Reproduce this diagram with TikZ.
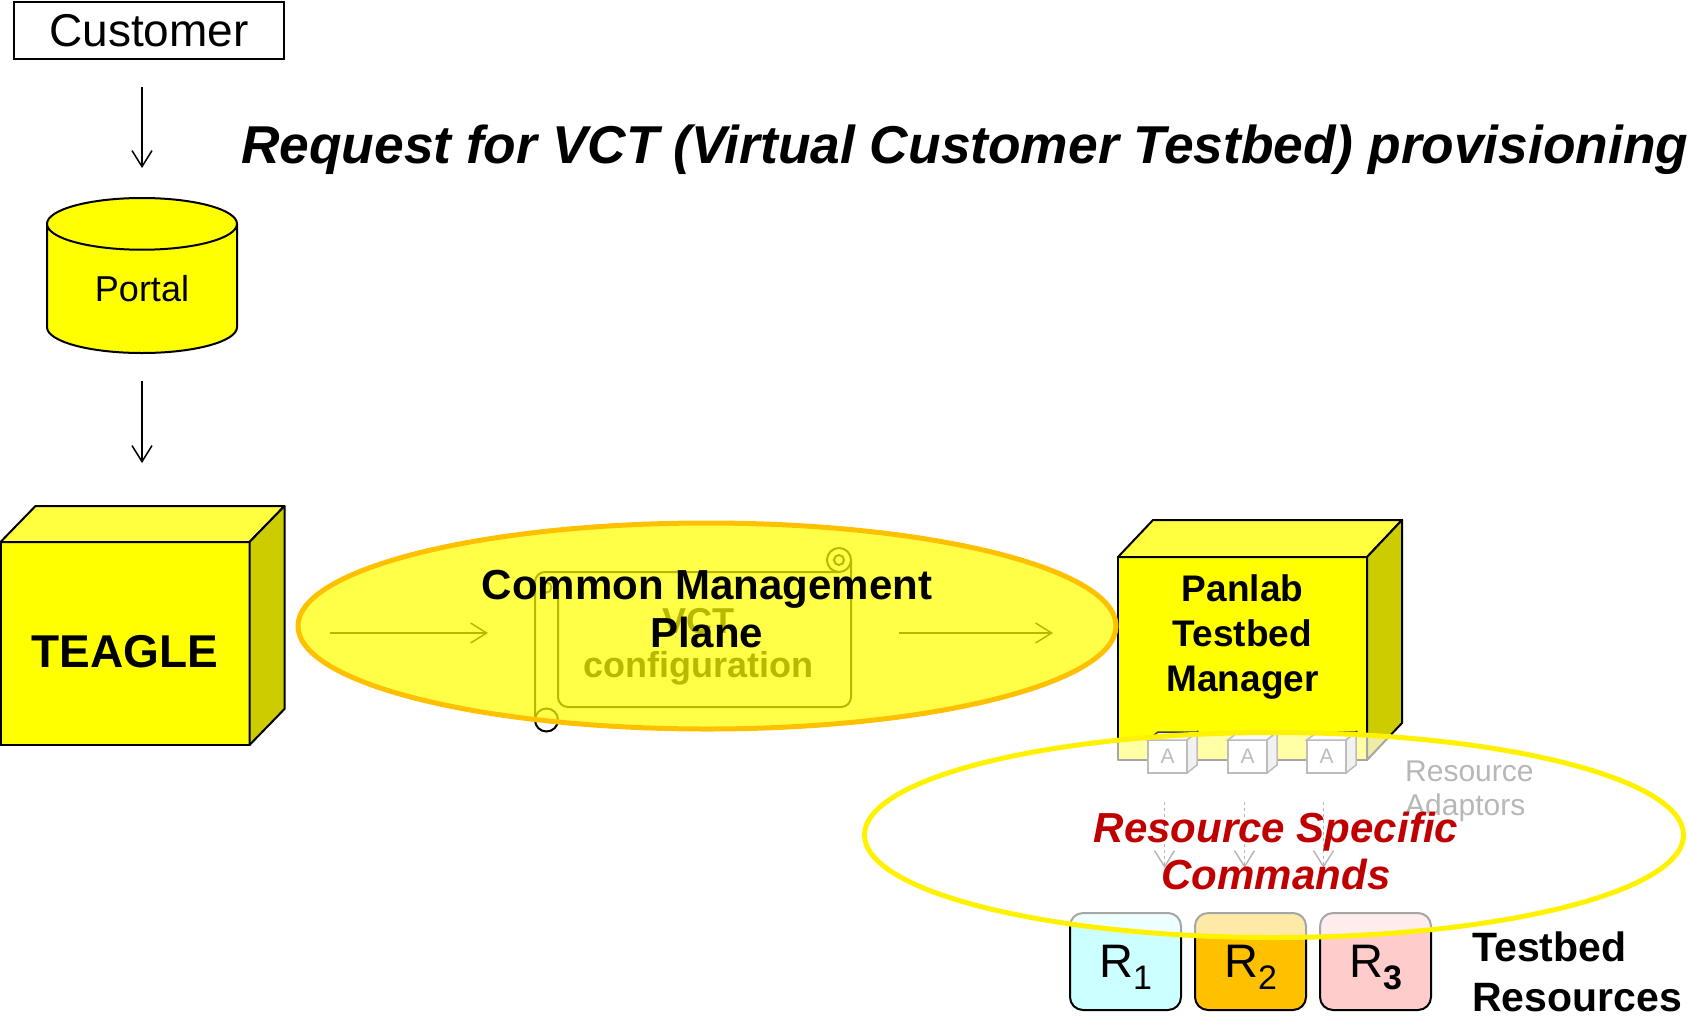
\documentclass[tikz,border=0pt]{standalone}
\usepackage{fontspec}
\setmainfont{Liberation Sans}
\usepackage{tikz}
\usetikzlibrary{positioning}
\usetikzlibrary{calc}
\usetikzlibrary{shapes.geometric}
\usetikzlibrary{arrows.meta}

\definecolor{cubefront}{HTML}{FFFF00}
\definecolor{cubetop}{HTML}{FFFF40}
\definecolor{cubeside}{HTML}{CCCC00}
\definecolor{planerim}{HTML}{FFC000}
\definecolor{cmdred}{HTML}{C00000}
\definecolor{resone}{HTML}{CCFFFF}
\definecolor{restwo}{HTML}{FFC000}
\definecolor{resthree}{HTML}{FFCCCC}

\newcommand{\fs}[2]{\fontsize{#1pt}{#2pt}\selectfont}
\newcommand{\rsub}[1]{R\raisebox{-12pt}{\fs{34}{34}#1}}
% top and right face behind a front face node: node, dx, dy, top style, side style
\newcommand{\cubesides}[5]{%
  \filldraw[#4] (#1.north west) -- ++(#2,#3) -- ($(#1.north east)+(#2,#3)$) -- (#1.north east) -- cycle;
  \filldraw[#5] (#1.north east) -- ++(#2,#3) -- ($(#1.south east)+(#2,#3)$) -- (#1.south east) -- cycle;
}

\tikzset{
  box/.style          = { rectangle, inner sep=0pt, outer sep=0pt },
  border/.style       = { draw=black, line width=2pt, line join=round },
  cube/.style         = { box, border, fill=cubefront, minimum width=249pt, minimum height=203pt },
  cubetopface/.style  = { border, fill=cubetop },
  cubesideface/.style = { border, fill=cubeside },
  cubelabel/.style    = { inner sep=0pt, align=center },
  adaptor/.style      = { box, draw=black!75, line width=1.5pt, fill=white, minimum width=39pt, minimum height=33pt, font=\fs{21}{21}, text=black!75 },
  adtopface/.style    = { draw=black!75, line width=1.5pt, fill=black!5 },
  adsideface/.style   = { draw=black!75, line width=1.5pt, fill=black!15 },
  resource/.style     = { box, border, rounded corners=13pt, minimum width=111pt, minimum height=97pt, font=\fs{47}{47}, text depth=0pt },
  plane/.style        = { ellipse, inner sep=0pt, outer sep=0pt, minimum width=818pt, minimum height=206pt, line width=5pt },
  planetext/.style    = { inner sep=0pt, align=center, fill opacity=1, text opacity=1 },
  scrollline/.style   = { draw=black, line width=2pt },
  faded/.style        = { ->, black, line width=1.5pt },
}

\begin{document}
\begin{tikzpicture}[
  x=1pt, y=-1pt,
  >={Straight Barb[length=16pt,width=20pt]},
  every node/.style={inner sep=0pt}
]
  \useasboundingbox (0,0) rectangle (1688,1018);

  \node (customer) [box, draw=black, line width=1.5pt, minimum width=270pt, minimum height=57pt, font=\fs{46}{46}] at (149,30.5) {Customer};
  \node (portal)   [cylinder, shape border rotate=90, aspect=0.55, border, fill=cubefront, minimum width=190pt, minimum height=155pt, font=\fs{36}{36}, anchor=shape center] at (142,275.5) {Portal};
  \node (request)  [font=\fs{53.3}{53.3}\bfseries\itshape, anchor=base west] at (241,163) {Request for VCT (Virtual Customer Testbed) provisioning};

  \node (teagle) [cube, label={[cubelabel, font=\fs{46}{46}\bfseries, yshift=-8pt]center:TEAGLE}] at (125,643.5) {};
  \cubesides{teagle}{35}{-36}{cubetopface}{cubesideface}
  \node (panlab) [cube, label={[cubelabel, font=\fs{37}{45}\bfseries, yshift=21pt]center:Panlab\\Testbed\\Manager}] at (1242.5,658.5) {};
  \cubesides{panlab}{35}{-37}{cubetopface}{cubesideface}

  \draw [->, line width=1.5pt, shorten <=28pt, shorten >=29pt] (customer.south -| portal.north) -- (portal.north);
  \draw [->, line width=1.5pt, shorten <=27pt, shorten >=79pt] (portal.south) -- (portal.south |- teagle.north);

  % scroll under the plane
  \node (vct) [box, minimum width=316pt, minimum height=135pt,
    label={[planetext, font=\fs{36}{44}\bfseries, text=black, xshift=5pt, yshift=-7.3pt]center:VCT\\configuration}] at (693,639.5) {};
  \begin{scope}[shift={(vct.center)}, scrollline]
    \draw [rounded corners=10pt] (-158,80) -- (-158,-67.5) -- (146,-67.5);
    \draw (146,-79.5) circle (12);
    \draw (146,-79.5) circle (5);
    \draw [rounded corners=10pt] (158,-79.5) -- (158,67.5) -- (-135,67.5) -- (-135,-50);
    \draw (-146.5,80.5) circle (11.5);
    \draw (-146.5,-52) circle (5);
  \end{scope}
  \draw [faded] ([xshift=80pt,yshift=10.5pt]teagle.east) -- ([xshift=-47pt,yshift=6.5pt]vct.west);
  \draw [faded] ([xshift=48pt,yshift=6.5pt]vct.east) -- ([xshift=-65pt,yshift=25.5pt]panlab.west);

  \node (plane) [plane, draw=planerim, fill=cubefront, fill opacity=0.72,
    label={[planetext, font=\fs{42}{48}\bfseries, yshift=17.4pt]center:Common Management\\Plane}] at (707,626) {};

  % adaptors and resources
  \node (a1) [adaptor] at (1167.5,756.5) {A};
  \node (a2) [adaptor, right=41pt of a1] {A};
  \node (a3) [adaptor, right=40pt of a2] {A};
  \foreach \i in {1,2,3} {\cubesides{a\i}{10}{-8}{adtopface}{adsideface}}
  \node (adaptors) [font=\fs{30}{34}, text=black!80, align=left, anchor=north west] at (1405,761) {Resource\\Adaptors};

  \node (r1) [resource, fill=resone] at (1125.5,961.5) {\rsub{1}};
  \node (r2) [resource, fill=restwo, right=14pt of r1] {\rsub{2}};
  \node (r3) [resource, fill=resthree, right=14pt of r2] {\rsub{\bfseries 3}};
  \node (testbed) [font=\fs{41}{50}\bfseries, align=left, anchor=north west] at (1472,932) {Testbed\\Resources};

  \foreach \i in {1,2,3}
    \draw [->, dashed, black!80, line width=1.5pt, shorten <=29pt, shorten >=45pt]
      ($(a\i.south)+(-3,0)$) -- ($(a\i.south |- r\i.north)+(-3,0)$);

  \node (commands) [plane, draw=yellow, fill=white, fill opacity=0.65, minimum width=819pt, minimum height=205pt,
    label={[planetext, font=\fs{42}{47}\bfseries\itshape, text=cmdred, xshift=2pt, yshift=-16pt]center:Resource Specific\\Commands}] at (1274,835) {};
\end{tikzpicture}
\end{document}
